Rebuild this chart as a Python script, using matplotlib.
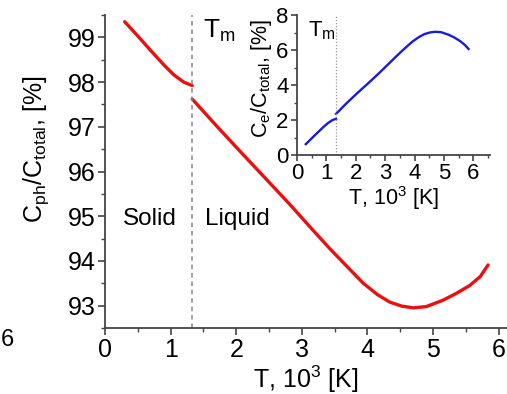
import matplotlib
matplotlib.use("Agg")
import matplotlib.pyplot as plt
from matplotlib.ticker import MultipleLocator

plt.rcParams['font.family'] = ['Liberation Sans', 'DejaVu Sans']
plt.rcParams['mathtext.fontset'] = 'custom'
plt.rcParams['mathtext.rm'] = 'Liberation Sans'

# --- data ---
T_MELT = 1.33

t_solid = [0.30, 0.50, 0.70, 0.90, 1.05, 1.20, 1.33]
cph_solid = [99.35, 99.03, 98.70, 98.38, 98.16, 98.00, 97.92]

t_liquid = [1.33, 1.70, 2.06, 2.45, 2.82, 3.15, 3.43, 3.70, 3.93, 4.15,
            4.34, 4.52, 4.70, 4.90, 5.15, 5.35, 5.56, 5.72, 5.84]
cph_liquid = [97.62, 97.02, 96.45, 95.84, 95.26, 94.72, 94.27, 93.86, 93.51, 93.25,
              93.08, 92.99, 92.95, 92.98, 93.12, 93.27, 93.45, 93.65, 93.91]

ce_solid = [0.62, 0.95, 1.28, 1.60, 1.82, 1.99, 2.07]
ce_liquid = [2.35, 2.98, 3.55, 4.14, 4.72, 5.26, 5.72, 6.14, 6.48, 6.74,
             6.91, 7.00, 7.04, 7.02, 6.88, 6.72, 6.50, 6.28, 6.06]

RED = '#e81010'
BLUE = '#1a1ad8'
SPINE = '#444444'

W, H = 507, 394
fig = plt.figure(figsize=(W / 100, H / 100), dpi=100)


def px_rect(x0, y0, x1, y1):
    return [x0 / W, 1 - y1 / H, (x1 - x0) / W, (y1 - y0) / H]


def style_axes(ax, size, major_len, minor_len):
    for s in ('top', 'right'):
        ax.spines[s].set_visible(False)
    for s in ('left', 'bottom'):
        ax.spines[s].set_color(SPINE)
        ax.spines[s].set_linewidth(1.3)
    ax.tick_params(which='major', direction='out', length=major_len, width=1.2,
                   color=SPINE, labelsize=size, pad=2)
    ax.tick_params(which='minor', direction='out', length=minor_len, width=1.0,
                   color=SPINE)


# main plot
ax = fig.add_axes(px_rect(105, 15, 507, 328))
ax.plot(t_solid, cph_solid, color=RED, lw=2.4, solid_capstyle='round')
ax.plot(t_liquid, cph_liquid, color=RED, lw=2.4, solid_capstyle='round')
ax.axvline(T_MELT, color='#888888', lw=1.1, ls=(0, (3, 2.5)))
ax.set_xlim(0, 402 / 65.6)
ax.set_ylim(92.5, 99.5)
ax.xaxis.set_major_locator(MultipleLocator(1))
ax.xaxis.set_minor_locator(MultipleLocator(0.5))
ax.yaxis.set_major_locator(MultipleLocator(1))
ax.yaxis.set_minor_locator(MultipleLocator(0.5))
style_axes(ax, 18, 5, 3)
ax.set_xlabel(r'T, $\mathregular{10^3}$ [K]', fontsize=18, labelpad=1)
ax.set_ylabel(r'$\mathregular{C_{ph}/C_{total}}$, [%]', fontsize=18)
ax.yaxis.set_label_coords(-0.135, 0.57)

ax.text(0.27, 94.94, 'Solid', fontsize=17.5, va='center', ha='left')
ax.text(1.52, 94.94, 'Liquid', fontsize=17.5, va='center', ha='left')
ax.text(1.49, 99.0, r'T$\mathregular{_m}$', fontsize=19, va='baseline', ha='left')

# inset
ins = fig.add_axes(px_rect(297, 15, 490, 155))
ins.patch.set_alpha(0)
ins.plot(t_solid, ce_solid, color=BLUE, lw=1.7)
ins.plot(t_liquid, ce_liquid, color=BLUE, lw=1.7)
ins.axvline(T_MELT, color='#999999', lw=0.9, ls=(0, (1, 1.5)))
ins.set_xlim(0, 6.57)
ins.set_ylim(0, 8)
ins.xaxis.set_major_locator(MultipleLocator(1))
ins.xaxis.set_minor_locator(MultipleLocator(0.5))
ins.yaxis.set_major_locator(MultipleLocator(2))
ins.yaxis.set_minor_locator(MultipleLocator(1))
style_axes(ins, 16, 4, 2.5)
ins.set_xlabel(r'T, $\mathregular{10^3}$ [K]', fontsize=15.5, labelpad=0)
ins.set_ylabel(r'$\mathregular{C_e/C_{total}}$, [%]', fontsize=15.5)
ins.yaxis.set_label_coords(-0.12, 0.55)
ins.text(0.38, 6.8, r'T$\mathregular{_m}$', fontsize=16, va='baseline', ha='left')

# fragment of a neighbouring panel at the left edge
fig.text(1 / W, 1 - 340 / H, '6', fontsize=17, ha='left', va='center')

fig.savefig('out.png', dpi=100)
